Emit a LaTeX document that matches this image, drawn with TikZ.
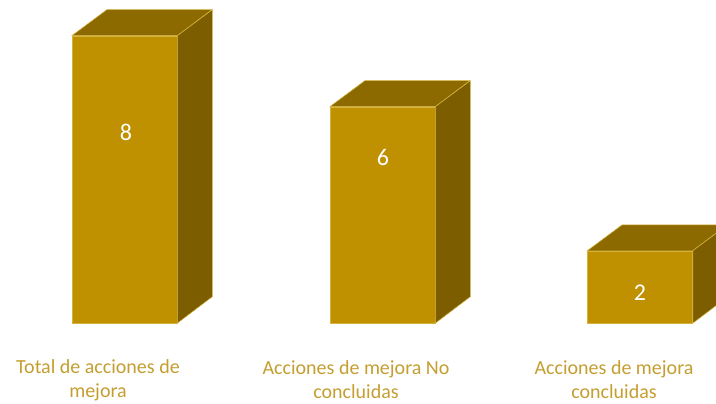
\documentclass[tikz,border=0pt]{standalone}
\usepackage{fontspec}
\setmainfont{Carlito}
\usepackage{tikz}
\definecolor{barfront}{RGB}{191,144,0}
\definecolor{bartop}{RGB}{140,106,0}
\definecolor{barside}{RGB}{124,94,0}
\definecolor{barline}{RGB}{214,180,60}
\definecolor{labeltext}{RGB}{196,158,48}

\begin{document}
\begin{tikzpicture}[x=1pt,y=-1pt,
    frontface/.style={rectangle, fill=barfront, draw=barline, line width=0.5pt, minimum width=105pt, inner sep=0pt},
    topface/.style={fill=bartop, draw=barline, line width=0.5pt},
    sideface/.style={fill=barside, draw=barline, line width=0.5pt},
    valuenode/.style={text=white, font=\fontsize{24}{28}\selectfont},
    catnode/.style={text=labeltext, align=center, font=\fontsize{20}{24}\selectfont}
    ]
    \useasboundingbox (0,0) rectangle (716,404);
    \clip (0,0) rectangle (716,404);

    % total
    \node [frontface, minimum height=287pt] (f1) at (124.5,179.5) {};
    \draw [topface] (f1.north west) -- ++(35,-26) -- ++(105,0) -- (f1.north east) -- cycle;
    \draw [sideface] (f1.north east) -- ++(35,-26) -- ++(0,287) -- (f1.south east) -- cycle;
    \node [valuenode] (v1) at (126,132) {8};

    % no concluidas
    \node [frontface, minimum height=216pt] (f2) at (382.5,215) {};
    \draw [topface] (f2.north west) -- ++(35,-26) -- ++(105,0) -- (f2.north east) -- cycle;
    \draw [sideface] (f2.north east) -- ++(35,-26) -- ++(0,216) -- (f2.south east) -- cycle;
    \node [valuenode] (v2) at (383,157) {6};

    % concluidas
    \node [frontface, minimum height=72pt] (f3) at (640,287) {};
    \draw [topface] (f3.north west) -- ++(35,-26) -- ++(105,0) -- (f3.north east) -- cycle;
    \draw [sideface] (f3.north east) -- ++(35,-26) -- ++(0,72) -- (f3.south east) -- cycle;
    \node [valuenode] (v3) at (640,293) {2};

    \node [catnode] (c1) at (98,380) {Total de acciones de\\mejora};
    \node [catnode] (c2) at (356,380) {Acciones de mejora No\\concluidas};
    \node [catnode] (c3) at (614,380) {Acciones de mejora\\concluidas};
  \end{tikzpicture}
\end{document}
